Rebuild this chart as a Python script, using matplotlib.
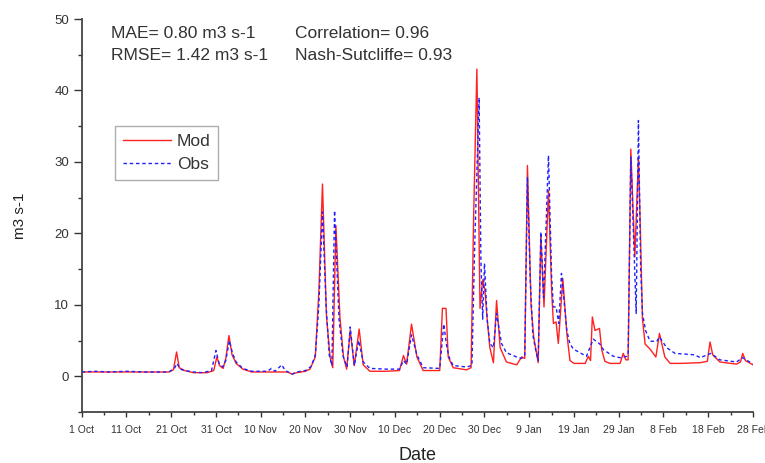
import matplotlib
matplotlib.use("Agg")
import matplotlib.pyplot as plt
import numpy as np
from matplotlib.ticker import MultipleLocator

plt.rcParams['font.family'] = ['Liberation Sans', 'DejaVu Sans']

# ---- data (days since 1 Oct, discharge m3 s-1) ----
mod_day = [0, 5, 10, 15, 19.5, 20.5, 21.2, 21.8, 23, 25, 28, 29.5, 30.2, 30.8, 31.6, 32.2, 32.9,
           33.6, 34.5, 36, 38, 42, 46, 47, 48, 50, 51, 52.2, 53, 53.8, 54.7, 55.5, 56.1, 56.8,
           57.7, 58.5, 59.2, 60, 60.9, 62, 62.9, 64.4, 68, 71, 71.9, 72.6, 73.7, 74.9, 76.3, 80,
           80.6, 81.4, 81.9, 83, 86, 87.0, 87.6, 88.3, 89.0, 89.6, 90.1, 90.6, 91.2, 92.0, 92.7,
           93.5, 94.9, 97.2, 98.3, 99.0, 99.6, 100.4, 101.0, 102.0, 102.6, 103.3, 104.3, 105.0,
           105.4, 106.0, 106.5, 107.0, 107.5, 108.4, 109.1, 110, 112.5, 113.2, 113.7, 114.1,
           114.7, 115.7, 116.2, 116.9, 118, 120.3, 121.0, 121.6, 122.1, 122.7, 123.6, 124.4,
           124.8, 125.3, 125.9, 127.0, 128.3, 129.1, 130.3, 131.5, 133.6, 138.2, 139.8, 140.4,
           141.0, 142.6, 146.3, 147.2, 147.7, 148.3, 150]
mod_val = [0.6, 0.6, 0.6, 0.6, 0.6, 0.9, 3.4, 1.2, 0.8, 0.5, 0.5, 0.8, 2.7, 1.5, 1.1, 2.5, 5.7,
           3.0, 1.8, 1.0, 0.6, 0.6, 0.6, 0.3, 0.5, 0.7, 1.0, 2.7, 12, 26.9, 8.3, 2.7, 1.2, 21.1,
           8.3, 2.7, 1.0, 6.4, 1.5, 6.6, 1.6, 0.7, 0.7, 0.8, 2.9, 1.7, 7.3, 2.7, 0.8, 0.8,
           9.5, 9.5, 2.7, 1.2, 0.9, 1.2, 23, 43, 9.5, 13.5, 12, 8, 4.0, 1.9, 10.6,
           4.0, 2.0, 1.6, 2.7, 2.5, 29.5, 10, 5.5, 1.9, 19.7, 9.7, 26, 12,
           7.4, 7.6, 4.6, 9, 13.7, 6.0, 2.2, 1.8, 1.8, 2.8, 2.2, 8.3,
           6.4, 6.7, 3.7, 2.1, 1.8, 1.8, 3.2, 2.3, 2.3, 31.8, 16.7, 30.7,
           21.4, 8.0, 4.5, 3.8, 2.7, 6.0, 2.7, 1.8, 1.8, 1.9, 2.1, 4.8,
           3.0, 2.0, 1.7, 2.0, 3.2, 2.2, 1.6]

obs_day = [0, 3, 6, 10, 14, 19.5, 20.8, 21.3, 22, 23, 25, 27, 29, 30.0, 30.7, 31.5, 32.2, 33.0,
           33.7, 34.5, 36, 38, 41.5, 42.4, 43.2, 44.7, 45.5, 47, 48, 50, 51.3, 52.2, 53, 53.8,
           54.6, 55.3, 55.9, 56.5, 57.5, 58.4, 59.3, 60.0, 60.9, 61.9, 62.9, 64.4, 68, 71, 71.9,
           72.6, 73.7, 74.9, 76.3, 80, 80.9, 81.6, 82.2, 83, 86, 87.2, 87.8, 88.8, 89.2, 89.6,
           90.0, 90.6, 91.2, 92.0, 92.7, 93.8, 94.9, 97.2, 98.3, 99.0, 99.6, 100.2, 100.8, 101.5,
           102.0, 102.6, 103.2, 104.3, 105.0, 105.4, 106.0, 106.6, 107.2, 108.4, 109.1, 109.9,
           111.3, 112.8, 114.3, 115.8, 116.6, 118.8, 120.3, 121.8, 122.1, 122.7, 123.9, 124.4,
           124.9, 125.3, 126.0, 127.0, 128.5, 129.1, 130.7, 132.6, 137.0, 138.2, 140.6, 142.6,
           146.3, 147.7, 150]
obs_val = [0.6, 0.7, 0.6, 0.7, 0.6, 0.6, 1.2, 1.8, 1.0, 0.8, 0.6, 0.5, 0.8, 3.6, 1.8, 1.3, 2.2, 5.0,
           3.2, 2.0, 1.1, 0.7, 0.7, 1.1, 0.7, 1.6, 0.8, 0.3, 0.6, 0.8, 1.4, 3.0, 10, 23,
           10, 3, 1.5, 23.2, 8, 2.8, 1.3, 6.9, 1.5, 5.0, 2.0, 1.1, 1.0, 1.0, 2.2,
           1.7, 5.8, 3.0, 1.2, 1.1, 7.3, 4, 2.5, 1.5, 1.3, 1.5, 18, 39, 16.2, 8,
           15.8, 8, 4.6, 4.0, 8.8, 4.6, 3.3, 2.7, 2.5, 3.0, 27.9, 13.9, 5.8, 3.5,
           2.2, 20.2, 11.0, 30.9, 14, 9.7, 9.7, 7.4, 14.4, 6.4, 4.5, 3.8,
           3.3, 2.8, 5.2, 4.5, 3.7, 2.8, 2.6, 2.8, 3.1, 30.7, 8.8, 35.8,
           15, 8.8, 6.4, 4.9, 4.9, 5.5, 4.0, 3.2, 3.0, 2.6, 3.2, 2.3,
           2.0, 2.6, 1.7]

tick_labels = ["1 Oct", "11 Oct", "21 Oct", "31 Oct", "10 Nov", "20 Nov", "30 Nov", "10 Dec",
               "20 Dec", "30 Dec", "9 Jan", "19 Jan", "29 Jan", "8 Feb", "18 Feb", "28 Feb"]

stats_left = ["MAE= 0.80 m3 s-1", "RMSE= 1.42 m3 s-1"]
stats_right = ["Correlation= 0.96", "Nash-Sutcliffe= 0.93"]

# ---- figure ----
fig = plt.figure(figsize=(7.65, 4.63), dpi=100)
ax = fig.add_axes([81.7 / 765, 51 / 463, 671.3 / 765, 393 / 463])

ax.plot(mod_day, mod_val, color='#ff2020', lw=1.0, label='Mod')
ax.plot(obs_day, obs_val, color='#2020ff', lw=1.0, ls=(0, (2.5, 2)), label='Obs')

ax.set_xlim(0, 150)
ax.set_ylim(-5, 50)
ax.set_xticks(np.arange(0, 151, 10))
ax.set_xticklabels(tick_labels, fontsize=7.5, color='#333333')
ax.xaxis.set_minor_locator(MultipleLocator(5))
ax.yaxis.set_minor_locator(MultipleLocator(5))
ax.set_yticks(np.arange(0, 51, 10))
ax.tick_params(axis='y', which='major', direction='out', length=5.5, width=1, pad=3.5,
               labelsize=9.5, colors='#333333')
ax.tick_params(axis='y', which='minor', direction='out', length=3, width=1, color='#333333')
ax.tick_params(axis='x', which='major', direction='out', length=3.5, width=1, pad=6,
               labelsize=7.5, colors='#333333')
ax.tick_params(axis='x', which='minor', direction='out', length=2.5, width=1, color='#333333')

for s in ['top', 'right']:
    ax.spines[s].set_visible(False)
for s in ['left', 'bottom']:
    ax.spines[s].set_linewidth(1.3)
    ax.spines[s].set_color('#444444')

ax.set_xlabel('Date', fontsize=13, color='#222222')
ax.set_ylabel('m3 s-1', fontsize=11, color='#222222')
ax.xaxis.set_label_coords(0.5, -0.088)
ax.yaxis.set_label_coords(-0.082, 0.5)

ax.text(0.0436, 0.964, stats_left[0], transform=ax.transAxes, fontsize=12.5, va='center',
        ha='left', color='#333333')
ax.text(0.0436, 0.908, stats_left[1], transform=ax.transAxes, fontsize=12.5, va='center',
        ha='left', color='#333333')
ax.text(0.318, 0.964, stats_right[0], transform=ax.transAxes, fontsize=12.5, va='center',
        ha='left', color='#333333')
ax.text(0.318, 0.908, stats_right[1], transform=ax.transAxes, fontsize=12.5, va='center',
        ha='left', color='#333333')

leg = ax.legend(loc='upper left', bbox_to_anchor=(0.0496, 0.728), borderaxespad=0,
                fontsize=12.5, frameon=True, fancybox=False, handlelength=2.8,
                handletextpad=0.3, borderpad=0.45, labelspacing=0.45)
leg.get_frame().set_edgecolor('#999999')
leg.get_frame().set_linewidth(1.0)
for t in leg.get_texts():
    t.set_color('#333333')

fig.savefig('out.png', dpi=100)
